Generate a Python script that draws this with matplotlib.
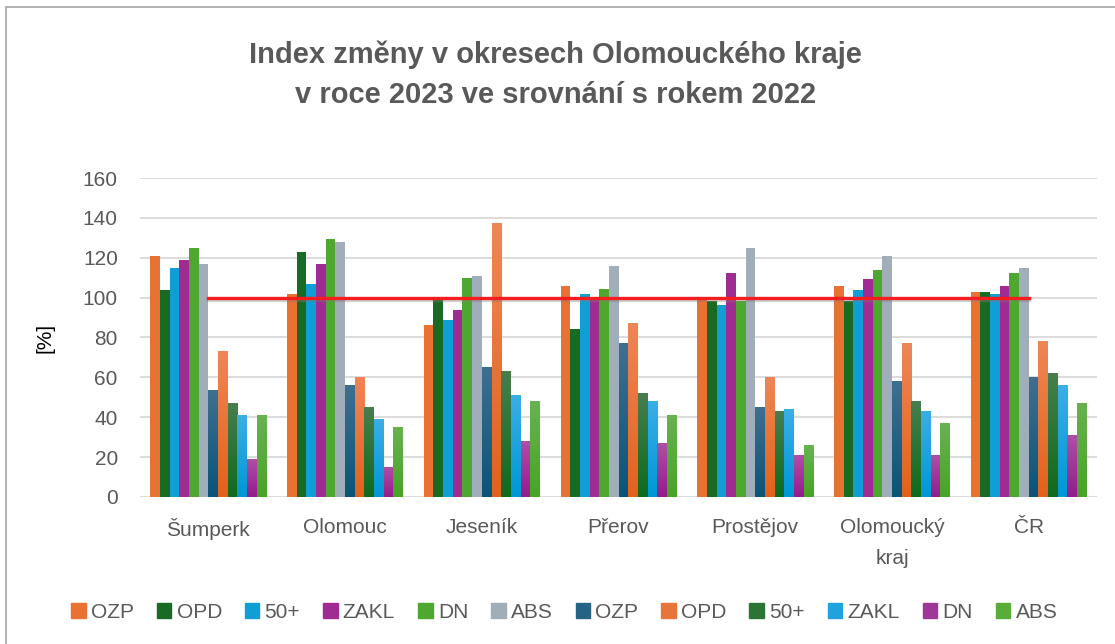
import numpy as np
import matplotlib
matplotlib.use('Agg')
import matplotlib.pyplot as plt
import matplotlib.patches as mpatches
import matplotlib.patheffects as pe
from matplotlib.colors import to_rgb

plt.rcParams['font.family'] = ['Liberation Sans', 'DejaVu Sans']

# okresy a index 2023/2022 (%)
categories = ['Šumperk', 'Olomouc', 'Jeseník', 'Přerov', 'Prostějov', 'Olomoucký\nkraj', 'ČR']
series_names = ['OZP', 'OPD', '50+', 'ZAKL', 'DN', 'ABS']

# první sada ukazatelů
ozp_a  = [121, 102, 86.5, 106, 99.5, 106, 103]
opd_a  = [104, 123, 99, 84.5, 98.5, 98.5, 103]
p50_a  = [115, 107, 89, 102, 96.5, 104, 102]
zakl_a = [119, 117, 94, 100.5, 112.5, 109.5, 106]
dn_a   = [125, 129.5, 110, 104.5, 98.5, 114, 112.5]
abs_a  = [117, 128, 111, 116, 125, 121, 115]

# druhá sada ukazatelů
ozp_b  = [53.5, 56, 65, 77, 45, 58, 60]
opd_b  = [73, 60, 137, 87, 60, 77, 78]
p50_b  = [47, 45, 63, 52, 43, 48, 62]
zakl_b = [41, 39, 51, 48, 44, 43, 56]
dn_b   = [19, 15, 28, 27, 21, 21, 31]
abs_b  = [41, 35, 48, 41, 26, 37, 47]

baseline = [100] * len(categories)

set_a = [ozp_a, opd_a, p50_a, zakl_a, dn_a, abs_a]
set_b = [ozp_b, opd_b, p50_b, zakl_b, dn_b, abs_b]

colors_a = ['#E97132', '#196B24', '#0F9ED5', '#A02B93', '#4EA72E', '#A0AEBA']
# přechody (nahoře, dole)
colors_b = [('#3F6F90', '#0A5478'), ('#EF8656', '#E3621B'), ('#477E4E', '#0F6A1D'),
            ('#3BAEE6', '#0097D6'), ('#AE4FA6', '#941C8C'), ('#68B250', '#46A524')]

TXT = '#595959'

fig = plt.figure(figsize=(11.15, 6.44), dpi=100)
ax = fig.add_axes([0.1256, 0.2283, 0.8583, 0.4953])

x = np.arange(len(categories))
n = 12
group_w = 0.849
w = group_w / n

for i, vals in enumerate(set_a):
    xs = x - group_w / 2 + (i + 0.5) * w
    ax.bar(xs, vals, width=w, color=colors_a[i], zorder=3, linewidth=0)

for i, vals in enumerate(set_b):
    xs = x - group_w / 2 + (i + 6.5) * w
    top, bot = np.array(to_rgb(colors_b[i][0])), np.array(to_rgb(colors_b[i][1]))
    t = np.linspace(0, 1, 64)[:, None]
    grad = (top * (1 - t) + bot * t)[:, None, :]
    for xc, v in zip(xs, vals):
        ax.imshow(grad, extent=[xc - w / 2, xc + w / 2, 0, v], aspect='auto',
                  origin='upper', zorder=3, interpolation='bilinear')

# čára 100 %
ax.plot(x, baseline, color='#F51D1D', lw=2.4, zorder=5,
        path_effects=[pe.SimpleLineShadow(offset=(0, -1.5), shadow_color='gray', alpha=0.35),
                      pe.Normal()])

ax.set_xlim(-0.5, 6.5)
ax.set_ylim(0, 160)
ax.set_yticks(range(0, 161, 20))
ax.set_xticks(x)
ax.set_xticklabels(categories)
for lab in ax.get_xticklabels():
    lab.set_linespacing(1.8)
ax.grid(axis='y', color='#D9D9D9', lw=1.3, zorder=0)
for s in ax.spines.values():
    s.set_visible(False)
ax.tick_params(axis='both', length=0, labelsize=15, colors=TXT)
ax.tick_params(axis='y', pad=16)
ax.tick_params(axis='x', pad=15)
ax.set_ylabel('[%]', fontsize=15, color='black', labelpad=20)

title_lines = ['Index změny v okresech Olomouckého kraje', 'v roce 2023 ve srovnání s rokem 2022']
for yy, line in zip([1 - 55 / 644, 1 - 95 / 644], title_lines):
    fig.text(0.498, yy, line, ha='center', va='center', fontsize=21,
             fontweight='bold', color=TXT)

handles = [mpatches.Patch(color=c, label=l) for c, l in zip(colors_a, series_names)]
handles += [mpatches.Patch(color=tuple((np.array(to_rgb(a)) + np.array(to_rgb(b))) / 2), label=l)
            for (a, b), l in zip(colors_b, series_names)]
leg = fig.legend(handles=handles, loc='center', bbox_to_anchor=(0.506, 0.049), ncol=12,
                 frameon=False, fontsize=15, handlelength=0.7, handleheight=0.7,
                 handletextpad=0.25, columnspacing=1.1)
for t_ in leg.get_texts():
    t_.set_color(TXT)

# rámeček grafu
fig.patches.append(mpatches.Rectangle((6 / 1115, -0.1), 1.2, 1 - 7 / 644 + 0.1,
                                      transform=fig.transFigure, fill=False,
                                      ec='#A6A6A6', lw=1.2))

fig.savefig('out.png', dpi=100)
